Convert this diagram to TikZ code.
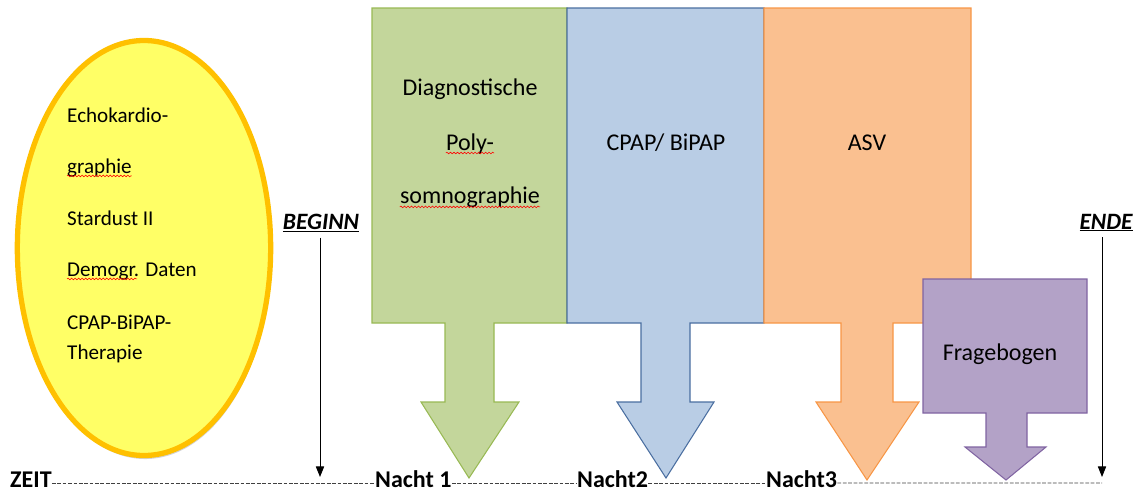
\documentclass[tikz,border=0pt]{standalone}
\usepackage{fontspec}
\setmainfont{Carlito}
\usetikzlibrary{arrows.meta, positioning, shapes.geometric, shadows, decorations.pathmorphing}

% Farben der Phasen
\definecolor{gelb}{RGB}{255,255,102}
\definecolor{gelbrand}{RGB}{255,192,0}
\definecolor{gruen}{RGB}{195,214,155}
\definecolor{gruenrand}{RGB}{152,185,84}
\definecolor{blau}{RGB}{185,205,229}
\definecolor{blaurand}{RGB}{74,110,160}
\definecolor{orange}{RGB}{250,192,144}
\definecolor{orangerand}{RGB}{247,150,70}
\definecolor{lila}{RGB}{179,162,199}
\definecolor{lilarand}{RGB}{128,100,162}

\begin{document}
\begin{tikzpicture}[
        x=0.03cm, y=-0.03cm,
        every node/.style = {inner sep=0pt, text=black},
        % Text in den Kästen
        kasten/.style = {font=\fontsize{20.5}{25}\selectfont, anchor=base},
        % Text in der Ellipse
        infotext/.style = {font=\fontsize{18}{22}\selectfont, anchor=base west},
        % Zeitachse
        zeitlabel/.style = {font=\bfseries\fontsize{20.5}{25}\selectfont, anchor=base west},
        marke/.style = {font=\bfseries\itshape\fontsize{20}{24}\selectfont, anchor=base},
        % Phase: Kasten mit Pfeil nach unten
        phase/.style args = {#1/#2}{fill=#1, draw=#2, line width=0.9pt, line join=miter},
        pfeil/.style = {-{Triangle[width=7pt,length=9pt]}, line width=0.8pt},
        gestrichelt/.style = {dash pattern=on 3.2pt off 1.4pt, line width=0.75pt, black!75},
        kringel/.style = {decorate, decoration={snake, amplitude=0.7pt, segment length=3pt},
            red, line width=0.5pt}
    ]
    \useasboundingbox (0,0) rectangle (1139,492);

    % 1. Ellipse mit Voruntersuchungen
    \node (info) [ellipse, fill=gelb, draw=gelbrand, line width=4.5pt,
        minimum width=7.6cm, minimum height=12.45cm,
        drop shadow={shadow xshift=1pt, shadow yshift=-3pt, opacity=0.35}] at (144,248) {};
    \foreach \zeile/\yy [count=\i] in {Echokardio-/122, graphie/173, Stardust II/225,
            Demogr. Daten/276, CPAP-BiPAP-/329, Therapie/359}
        \node (info\i) [infotext] at (67,\yy) {\zeile};
    \draw [kringel] ([yshift=-2.5pt]info2.base west) -- ([yshift=-2.5pt]info2.base east);
    \draw [kringel] ([yshift=-2.5pt]info4.base west) -- ++(70,0);

    % 2. Phasen (Kasten + Pfeil)
    \draw [phase={gruen/gruenrand}] (372,8) -- (567,8) -- (567,323) -- (494,323) -- (494,402)
        -- (519,402) -- (469,478) -- (421,402) -- (445,402) -- (445,323) -- (372,323) -- cycle;
    \draw [phase={blau/blaurand}] (567,8) -- (764,8) -- (764,323) -- (690,323) -- (690,402)
        -- (714,402) -- (666,478) -- (617,402) -- (641,402) -- (641,323) -- (567,323) -- cycle;
    \draw [phase={orange/orangerand}] (764,8) -- (971,8) -- (971,323) -- (893,323) -- (893,402)
        -- (919,402) -- (867,480) -- (816,402) -- (841,402) -- (841,323) -- (764,323) -- cycle;
    \draw [phase={lila/lilarand}] (923,279) -- (1087,279) -- (1087,413) -- (1027,413) -- (1027,447)
        -- (1046,447) -- (1006,480) -- (965,447) -- (986,447) -- (986,413) -- (923,413) -- cycle;

    \node (diag)  [kasten] at (470,95) {Diagnostische};
    \node (poly)  [kasten] at ([yshift=-47pt]diag.base) {Poly-};
    \node (somno) [kasten] at ([yshift=-46pt]poly.base) {somnographie};
    \node (cpap)  [kasten] at (666,150) {CPAP/ BiPAP};
    \node (asv)   [kasten] at (867,150) {ASV};
    \node (frage) [kasten] at (1000,360) {Fragebogen};
    \draw [kringel] ([yshift=-2.5pt]poly.base west) -- ([yshift=-2.5pt]poly.base east);
    \draw [kringel] ([yshift=-2.5pt]somno.base west) -- ([yshift=-2.5pt]somno.base east);

    % 3. Zeitachse
    \node (zeit) [zeitlabel] at (10,487) {ZEIT};
    \node (n1)   [zeitlabel] at (375,487) {Nacht 1};
    \node (n2)   [zeitlabel] at (577,487) {Nacht2};
    \node (n3)   [zeitlabel] at (766,487) {Nacht3};
    \coordinate (achse-ende) at (1102,483);
    \draw [gestrichelt] ([yshift=3.4pt]zeit.base east) -- ([yshift=3.4pt]n1.base west);
    \draw [gestrichelt] ([yshift=3.4pt]n1.base east) -- ([yshift=3.4pt]n2.base west);
    \draw [gestrichelt] ([yshift=3.4pt]n2.base east) -- ([yshift=3.4pt]n3.base west);
    \draw [gestrichelt] ([yshift=3.4pt]n3.base east) -- (achse-ende);

    % Beginn und Ende
    \node (beginn) [marke] at (321,229) {\underline{BEGINN}};
    \node (ende)   [marke] at (1106,229) {\underline{ENDE}};
    \coordinate (beginn-ziel) at (320,477);
    \coordinate (ende-ziel) at (1102,477);
    \draw [pfeil, shorten <=5pt] (beginn.south -| beginn-ziel) -- (beginn-ziel);
    \draw [pfeil, shorten <=5pt] (ende.south -| ende-ziel) -- (ende-ziel);

\end{tikzpicture}
\end{document}
